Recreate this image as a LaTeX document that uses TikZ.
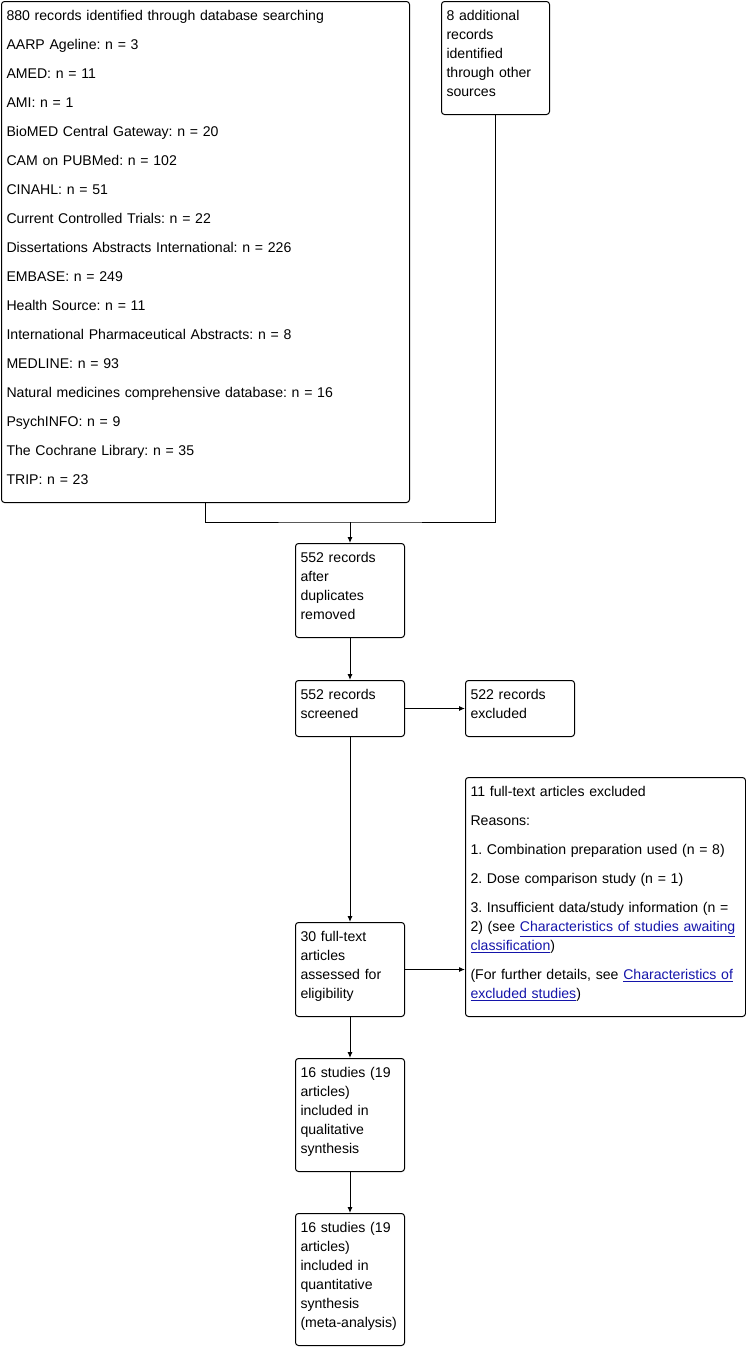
\documentclass[tikz,border=0pt]{standalone}
\usepackage{fontspec}
\setmainfont{Liberation Sans}
\usetikzlibrary{arrows.meta}
\frenchspacing
\definecolor{linkblue}{RGB}{20,20,170}
\newcommand\lnk[1]{\textcolor{linkblue}{\underline{#1}}}
\newcommand\lastrule{\rule[-10pt]{0pt}{10pt}}
\tikzset{
  box/.style={draw, line width=1pt, rounded corners=3pt, anchor=north west,
    align=left, inner xsep=5pt, inner ysep=8pt, text height=11pt,
    font=\fontsize{14.1pt}{19pt}\selectfont\frenchspacing},
  conn/.style={line width=1pt},
  arr/.style={line width=1pt, -{Latex[length=6pt,width=5pt]}}
}
\begin{document}
\begin{tikzpicture}[x=1pt,y=1pt]
\useasboundingbox (0,0) rectangle (746,-1347);
\node[box, text width=398pt] (A) at (1,-1) {880 records identified through database searching\\[10pt]
AARP Ageline: n = 3\\[10pt]
AMED: n = 11\\[10pt]
AMI: n = 1\\[10pt]
BioMED Central Gateway: n = 20\\[10pt]
CAM on PUBMed: n = 102\\[10pt]
CINAHL: n = 51\\[10pt]
Current Controlled Trials: n = 22\\[10pt]
Dissertations Abstracts International: n = 226\\[10pt]
EMBASE: n = 249\\[10pt]
Health Source: n = 11\\[10pt]
International Pharmaceutical Abstracts: n = 8\\[10pt]
MEDLINE: n = 93\\[10pt]
Natural medicines comprehensive database: n = 16\\[10pt]
PsychINFO: n = 9\\[10pt]
The Cochrane Library: n = 35\\[10pt]
TRIP: n = 23\lastrule};
\node[box, text width=98pt] (B) at (441,-1) {8 additional\\ records\\ identified\\ through other\\ sources\lastrule};
\node[box, text width=99pt] (C) at (295,-543) {552 records\\ after\\ duplicates\\ removed\lastrule};
\node[box, text width=99pt] (D) at (295,-680) {552 records\\ screened\lastrule};
\node[box, text width=99pt] (E) at (465,-680) {522 records\\ excluded\lastrule};
\node[box, text width=270pt] (G) at (465,-777) {11 full-text articles excluded\\[10pt]
Reasons:\\[10pt]
1. Combination preparation used (n = 8)\\[10pt]
2. Dose comparison study (n = 1)\\[10pt]
3. Insufficient data/study information (n =\\ 2) (see \lnk{Characteristics of studies awaiting}\\ \lnk{classification})\\[10pt]
(For further details, see \lnk{Characteristics of}\\ \lnk{excluded studies})\lastrule};
\node[box, text width=99pt] (F) at (295,-922) {30 full-text\\ articles\\ assessed for\\ eligibility\lastrule};
\node[box, text width=99pt] (H) at (295,-1058) {16 studies (19\\ articles)\\ included in\\ qualitative\\ synthesis\lastrule};
\node[box, text width=99pt] (I) at (295,-1213) {16 studies (19\\ articles)\\ included in\\ quantitative\\ synthesis\\ (meta-analysis)\lastrule};
\coordinate (j) at (C.north |- 0,-522);
\draw[conn] (A.south) |- (j) -| (B.south);
\draw[arr] (j) -- (C.north);
\draw[arr] (C.south) -- (D.north);
\draw[arr] (D.east) -- (E.west);
\draw[arr] (D.south) -- (F.north);
\draw[arr] (F.east) -- (F.east -| G.west);
\draw[arr] (F.south) -- (H.north);
\draw[arr] (H.south) -- (I.north);
\end{tikzpicture}
\end{document}
